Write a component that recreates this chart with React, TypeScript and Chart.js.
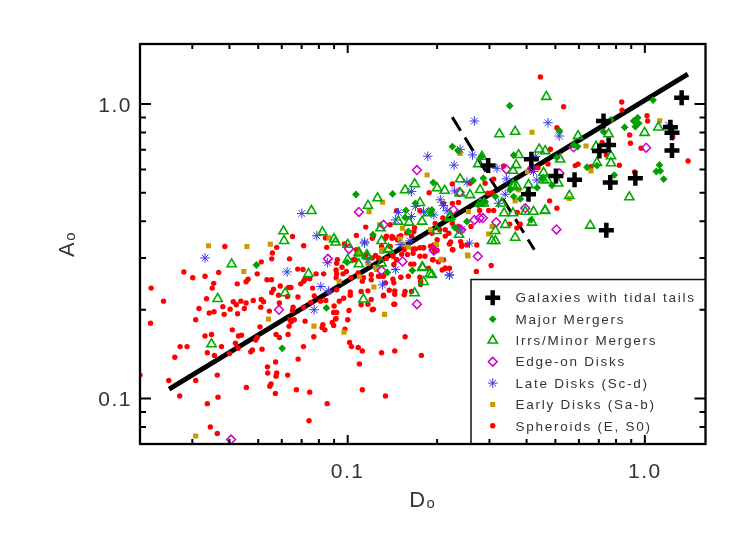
import React, { useEffect, useRef } from "react";
import { Chart, registerables } from "chart.js";
import { drawPoint } from "chart.js/helpers";

Chart.register(...registerables);

const spheroidD = [0.0218,0.024,0.0217,0.02,0.0281,0.0301,0.0331,0.0386,0.0368,0.0354,0.035,0.0335,0.0316,0.0342,0.0355,0.0308,0.038,0.0402,0.0384,0.0412,0.0422,0.0437,0.0455,0.0449,0.0426,0.0481,0.0512,0.0521,0.051,0.0545,0.0425,0.0455,0.0462,0.0496,0.0512,0.0558,0.0555,0.0577,0.0637,0.0711,0.0679,0.0707,0.0783,0.083,0.0535,0.0554,0.0593,0.0563,0.0555,0.0585,0.0633,0.0644,0.0627,0.0589,0.0655,0.0652,0.071,0.068,0.0695,0.0718,0.0711,0.0745,0.0762,0.0772,0.0751,0.081,0.0844,0.0866,0.0331,0.0348,0.0273,0.0288,0.0262,0.0337,0.0356,0.0376,0.04,0.0419,0.0428,0.0409,0.0429,0.0439,0.0507,0.0496,0.049,0.0478,0.0472,0.0515,0.025,0.0308,0.0364,0.0272,0.0366,0.0337,0.0345,0.0364,0.0456,0.0537,0.0538,0.0572,0.0577,0.0574,0.0628,0.0552,0.0547,0.0571,0.0672,0.0745,0.0681,0.071,0.0574,0.0589,0.063,0.0769,0.0719,0.0639,0.0645,0.0661,0.0635,0.082,0.0838,0.0825,0.0887,0.0897,0.091,0.0918,0.1,0.101,0.0979,0.1015,0.103,0.1085,0.112,0.1095,0.112,0.0853,0.0741,0.134,0.13,0.144,0.156,0.177,0.122,0.144,0.132,0.12,0.0969,0.0937,0.102,0.102,0.111,0.117,0.0918,0.0914,0.0975,0.106,0.0957,0.0914,0.0918,0.0965,0.099,0.1026,0.1085,0.113,0.112,0.12,0.12,0.129,0.132,0.134,0.142,0.143,0.151,0.16,0.163,0.167,0.159,0.166,0.169,0.182,0.187,0.194,0.213,0.208,0.226,0.22,0.18,0.175,0.127,0.135,0.142,0.152,0.146,0.143,0.175,0.176,0.176,0.132,0.138,0.144,0.144,0.156,0.155,0.164,0.143,0.121,0.117,0.111,0.09,0.0897,0.0914,0.115,0.122,0.135,0.142,0.164,0.19,0.195,0.2,0.213,0.222,0.115,0.121,0.134,0.141,0.149,0.139,0.085,0.0923,0.0918,0.1046,0.121,0.168,0.19,0.213,0.219,0.225,0.242,0.272,0.225,0.188,0.252,0.166,0.18,0.175,0.197,0.213,0.22,0.202,0.225,0.21,0.155,0.141,0.124,0.146,0.127,0.445,0.533,0.836,0.838,1.017,1.022,0.506,0.718,0.742,0.889,0.894,0.971,1.398,1.241,0.924,0.821,0.659,0.596,0.583,0.472,0.437,0.481,0.335,0.31,0.29,0.258,0.478,0.506,0.372,0.351,0.381,0.371,0.271,0.304,0.22,0.24,0.242,0.278,0.298,0.31,0.296,0.306,0.26,0.236,0.197,0.209,0.225,0.236,0.193,0.21,0.2,0.195,0.192,0.204,0.0652,0.0842,0.107,0.146,0.175,0.158,0.167,0.139,0.141,0.13,0.147,0.151,0.098,0.107];
const spheroidA = [0.237,0.214,0.18,0.12,0.269,0.257,0.26,0.328,0.268,0.246,0.237,0.218,0.202,0.195,0.197,0.185,0.205,0.201,0.193,0.213,0.208,0.214,0.211,0.202,0.194,0.215,0.217,0.213,0.204,0.198,0.245,0.249,0.254,0.265,0.291,0.312,0.298,0.326,0.298,0.33,0.275,0.274,0.265,0.265,0.253,0.253,0.241,0.235,0.229,0.224,0.238,0.238,0.222,0.211,0.204,0.199,0.204,0.221,0.245,0.254,0.25,0.255,0.237,0.223,0.212,0.214,0.215,0.23,0.163,0.165,0.15,0.15,0.138,0.143,0.14,0.15,0.142,0.154,0.148,0.171,0.163,0.164,0.175,0.161,0.158,0.146,0.144,0.147,0.115,0.115,0.12,0.102,0.101,0.096,0.08,0.076,0.109,0.128,0.122,0.133,0.122,0.119,0.12,0.112,0.11,0.104,0.107,0.105,0.136,0.15,0.165,0.161,0.165,0.162,0.183,0.185,0.182,0.185,0.176,0.174,0.171,0.178,0.181,0.177,0.186,0.196,0.185,0.199,0.172,0.155,0.15,0.149,0.145,0.131,0.107,0.096,0.084,0.102,0.143,0.145,0.162,0.14,0.201,0.209,0.224,0.217,0.219,0.214,0.23,0.224,0.231,0.232,0.234,0.257,0.335,0.296,0.279,0.273,0.265,0.265,0.27,0.257,0.267,0.257,0.25,0.263,0.253,0.26,0.26,0.247,0.254,0.247,0.258,0.26,0.286,0.286,0.308,0.322,0.322,0.304,0.277,0.296,0.277,0.273,0.32,0.335,0.325,0.325,0.3,0.299,0.304,0.309,0.296,0.285,0.258,0.25,0.244,0.223,0.233,0.232,0.226,0.231,0.225,0.231,0.209,0.2,0.209,0.208,0.206,0.196,0.187,0.308,0.356,0.356,0.352,0.356,0.329,0.322,0.318,0.356,0.34,0.382,0.35,0.35,0.35,0.355,0.328,0.326,0.296,0.288,0.296,0.3,0.38,0.374,0.374,0.364,0.32,0.332,0.332,0.535,0.5,0.332,0.311,0.325,0.304,0.316,0.277,0.277,0.291,0.46,0.46,0.32,0.311,0.306,0.296,0.26,1.237,0.979,1.016,0.954,0.913,0.876,0.831,0.741,0.672,0.785,0.736,0.708,0.641,0.775,0.588,0.62,0.613,0.625,0.618,0.626,0.608,0.702,0.616,0.556,0.538,0.538,0.469,0.443,0.428,0.391,0.391,0.379,0.27,0.283,0.335,0.341,0.329,0.435,0.435,0.435,0.498,0.5,0.384,0.463,0.393,0.41,0.393,0.384,0.296,0.296,0.346,0.332,0.364,0.374,0.355,0.351,0.358,0.434,0.434,0.365,0.369,0.389,0.355,0.328,0.346,0.357,0.332,0.32];

const earlyD = [0.034,0.0458,0.0549,0.0447,0.0541,0.0308,0.077,0.0972,0.0936,0.1095,0.1225,0.133,0.131,0.124,0.117,0.109,0.154,0.16,0.199,0.206,0.253,0.125,0.417,0.634,1.122,0.239,0.185,0.659,0.557,0.456,0.403,0.376,0.366,0.254,0.207,0.198,0.298,0.306,0.255,0.19,0.131,0.118,0.0865,0.128,0.15,0.153,0.13];
const earlyA = [0.33,0.328,0.334,0.27,0.186,0.0745,0.176,0.168,0.25,0.259,0.239,0.193,0.32,0.279,0.288,0.312,0.333,0.327,0.333,0.296,0.307,0.274,0.802,0.72,0.878,0.68,0.574,0.593,0.478,0.552,0.59,0.511,0.469,0.305,0.297,0.332,0.362,0.384,0.431,0.374,0.464,0.431,0.351,0.389,0.348,0.379,0.316];

const lateD = [0.0701,0.0787,0.114,0.164,0.186,0.148,0.145,0.164,0.169,0.18,0.0331,0.0625,0.0812,0.0863,0.0771,0.0854,0.114,0.145,0.131,0.22,0.117,0.162,0.15,0.267,0.472,0.515,0.239,0.263,0.228,0.428,0.318,0.342,0.252,0.229,0.205,0.21,0.216,0.195,0.322,0.339,0.422,0.433,0.257,0.22,0.241,1.2];
const lateA = [0.425,0.357,0.337,0.505,0.665,0.428,0.404,0.415,0.449,0.431,0.3,0.269,0.24,0.232,0.2,0.289,0.34,0.274,0.243,0.262,0.296,0.343,0.333,0.876,0.864,0.779,0.702,0.672,0.62,0.663,0.605,0.557,0.543,0.507,0.473,0.452,0.434,0.42,0.46,0.494,0.59,0.552,0.337,0.263,0.374,0.849];

const edgeD = [0.171,0.109,0.132,0.0858,0.0587,0.0405,0.101,0.13,0.153,0.195,0.171,0.504,1.01,0.274,0.316,0.278,0.285,0.267,0.227,0.238,0.241,0.195,0.342,0.396,0.417,0.516,0.576,0.236];
const edgeA = [0.597,0.43,0.389,0.298,0.2,0.0725,0.322,0.272,0.292,0.319,0.209,0.375,0.711,0.304,0.397,0.41,0.41,0.404,0.437,0.502,0.374,0.318,0.6,0.443,0.605,0.582,0.713,0.377];

const irrD = [0.0755,0.0608,0.0611,0.0822,0.09,0.091,0.1,0.13,0.117,0.126,0.156,0.168,0.175,0.161,0.148,0.178,0.129,0.187,0.0407,0.0365,0.0348,0.0738,0.0616,0.113,0.1,0.109,0.109,0.116,0.13,0.137,0.179,0.189,0.18,0.168,0.109,0.116,0.137,0.199,0.239,0.2,0.212,0.239,0.258,0.279,0.237,0.22,0.178,0.192,0.336,0.36,0.396,0.422,0.462,0.417,0.339,0.314,0.314,0.306,0.366,0.36,0.33,0.279,0.287,0.221,0.406,0.456,0.466,0.324,0.366,0.596,0.755,0.685,0.769,0.769,0.69,0.998,1.11,0.887,0.655,0.557,0.461,0.441,0.462,0.519,0.376,0.369,0.36,0.456,0.469,0.511,0.371,0.362,0.283,0.275];
const irrA = [0.434,0.37,0.343,0.367,0.348,0.339,0.333,0.343,0.452,0.479,0.51,0.535,0.462,0.396,0.399,0.399,0.379,0.426,0.286,0.218,0.153,0.265,0.228,0.217,0.296,0.311,0.286,0.307,0.288,0.322,0.278,0.265,0.249,0.228,0.313,0.305,0.32,0.371,0.556,0.518,0.508,0.498,0.491,0.511,0.36,0.41,0.279,0.263,0.426,0.426,0.431,0.431,0.435,0.396,0.389,0.371,0.343,0.343,0.352,0.531,0.46,0.46,0.46,0.415,0.531,0.552,1.059,0.791,0.806,0.779,0.791,0.717,0.666,0.63,0.632,0.799,0.834,0.483,0.387,0.488,0.434,0.702,0.693,0.649,0.672,0.621,0.594,0.585,0.552,0.538,0.524,0.524,0.663,0.626];

const majorD = [0.1066,0.1416,0.169,0.157,0.156,0.16,0.1216,0.0493,0.0602,0.0848,0.136,0.165,0.0995,0.351,1.066,0.225,0.235,0.282,0.362,0.516,0.576,0.594,0.506,0.639,0.69,0.726,0.769,0.855,0.917,0.946,0.953,0.929,0.789,1.12,1.093,1.127,1.157,0.194,0.264,0.286,0.487,0.434,0.362,0.381,0.414,0.252,0.229,0.283,0.275,0.192,0.19,0.314,0.352,0.29,0.451,0.401];
const majorA = [0.493,0.495,0.46,0.435,0.412,0.369,0.36,0.284,0.148,0.203,0.268,0.272,0.29,0.987,1.032,0.717,0.695,0.663,0.67,0.81,0.726,0.717,0.659,0.61,0.618,0.806,0.883,0.834,0.876,0.899,0.86,0.838,0.574,0.621,0.59,0.593,0.556,0.541,0.55,0.56,0.529,0.52,0.485,0.476,0.404,0.399,0.381,0.46,0.455,0.437,0.426,0.485,0.511,0.466,0.56,0.498];

const tailsD = [1.33,0.726,1.219,1.234,1.234,0.755,0.703,0.415,0.297,0.502,0.58,0.765,0.929,0.406,0.742];
const tailsA = [1.05,0.876,0.834,0.799,0.695,0.726,0.693,0.649,0.618,0.57,0.553,0.541,0.56,0.494,0.373];

const fitD = [0.02506, 1.396];
const fitA = [0.1075, 1.264];
const limitD = [0.2248, 0.4246];
const limitA = [0.903, 0.32];

const xTicks = [0.03,0.04,0.05,0.06,0.07,0.08,0.09,0.1,0.2,0.3,0.4,0.5,0.6,0.7,0.8,0.9,1.0];
const yTicks = [0.08,0.09,0.1,0.2,0.3,0.4,0.5,0.6,0.7,0.8,0.9,1.0];
const labelled = [0.1, 1.0];

const zip = (xs: number[], ys: number[]) => xs.map((x, i) => ({ x, y: ys[i] }));

const FONT = '"Liberation Sans", Arial, sans-serif';
const INK = "#333333";

const legendLabels = (chart: any) =>
  chart.data.datasets.filter((d: any) => d.inLegend);

const framePlugin = {
  id: "frame",
  beforeDraw(chart: any) {
    chart.ctx.letterSpacing = "1.5px";
  },
  afterDatasetsDraw(chart: any) {
    const { ctx, chartArea: a, scales } = chart;
    ctx.save();
    ctx.letterSpacing = "1.75px";
    ctx.fillStyle = "#ffffff";
    ctx.fillRect(471, 279.5, 234.5, 164.5);
    ctx.strokeStyle = "#111111";
    ctx.lineWidth = 1.5;
    ctx.beginPath();
    ctx.moveTo(471, 444);
    ctx.lineTo(471, 279.5);
    ctx.lineTo(705.5, 279.5);
    ctx.stroke();
    legendLabels(chart).forEach((d: any, i: number) => {
      const y = 297.7 + i * 21.35;
      ctx.fillStyle = d.pointBackgroundColor;
      ctx.strokeStyle = d.pointBorderColor;
      ctx.lineWidth = d.pointBorderWidth;
      drawPoint(
        ctx,
        { pointStyle: d.pointStyle, radius: d.pointRadius, rotation: 0, borderWidth: d.pointBorderWidth },
        492.7,
        y
      );
      ctx.fillStyle = INK;
      ctx.font = `13.5px ${FONT}`;
      ctx.textAlign = "left";
      ctx.textBaseline = "middle";
      ctx.fillText(d.label, 515.5, y + 1);
    });
    ctx.strokeStyle = "#000000";
    ctx.lineWidth = 2;
    ctx.beginPath();
    scales.x.ticks.forEach((t: any) => {
      const p = scales.x.getPixelForValue(t.value);
      const len = labelled.includes(t.value) ? 9 : 5;
      ctx.moveTo(p, a.bottom);
      ctx.lineTo(p, a.bottom - len);
      ctx.moveTo(p, a.top);
      ctx.lineTo(p, a.top + len);
    });
    scales.y.ticks.forEach((t: any) => {
      const p = scales.y.getPixelForValue(t.value);
      const len = labelled.includes(t.value) ? 11 : 6;
      ctx.moveTo(a.left, p);
      ctx.lineTo(a.left + len, p);
      ctx.moveTo(a.right, p);
      ctx.lineTo(a.right - len, p);
    });
    ctx.stroke();
    ctx.lineWidth = 2.3;
    ctx.strokeRect(a.left, a.top, a.right - a.left, a.bottom - a.top);
    ctx.restore();
  },
};

const markers = (
  label: string,
  xs: number[],
  ys: number[],
  pointStyle: string,
  radius: number,
  fill: string,
  stroke: string,
  borderWidth: number
) => ({
  label,
  inLegend: true,
  data: zip(xs, ys),
  pointStyle,
  pointRadius: radius,
  pointBackgroundColor: fill,
  pointBorderColor: stroke,
  pointBorderWidth: borderWidth,
  showLine: false,
});

const axis = (ticks: number[], min: number, max: number, title: string, side: "x" | "y") => ({
  type: "logarithmic" as const,
  min,
  max,
  afterBuildTicks(scale: any) {
    scale.ticks = ticks.map((value) => ({ value }));
  },
  afterFit(scale: any) {
    if (side === "x") scale.height = 90;
    else scale.width = 140;
  },
  grid: { display: false, drawTicks: false },
  border: { display: false },
  ticks: {
    autoSkip: false,
    maxRotation: 0,
    minRotation: 0,
    color: INK,
    padding: side === "x" ? 16 : 8,
    labelOffset: side === "y" ? 2 : 0,
    font: { family: FONT, size: 21 },
    callback: (v: number) => (labelled.includes(v) ? v.toFixed(1) : ""),
  },
  title: {
    display: true,
    text: title,
    color: INK,
    font: { family: FONT, size: 22 },
    padding: side === "x" ? { top: 0, bottom: 20 } : { top: 55, bottom: 0 },
  },
});

export default function App() {
  const ref = useRef<HTMLCanvasElement>(null);
  useEffect(() => {
    const chart = new Chart(ref.current as HTMLCanvasElement, {
      type: "scatter",
      data: {
        datasets: [
          markers("Galaxies with tidal tails", tailsD, tailsA, "cross", 7.5, "#000000", "#000000", 4.5),
          markers("Major Mergers", majorD, majorA, "rectRot", 3.9, "#00a000", "#00a000", 0),
          markers("Irrs/Minor Mergers", irrD, irrA, "triangle", 5.3, "rgba(0,0,0,0)", "#00aa00", 1.6),
          markers("Edge-on Disks", edgeD, edgeA, "rectRot", 4.4, "rgba(0,0,0,0)", "#cc00cc", 1.5),
          markers("Late Disks (Sc-d)", lateD, lateA, "star", 4.8, "rgba(0,0,0,0)", "#3a3ae0", 1),
          markers("Early Disks (Sa-b)", earlyD, earlyA, "rect", 3.6, "#cc9900", "#cc9900", 0),
          markers("Spheroids (E, S0)", spheroidD, spheroidA, "circle", 2.7, "#ff0000", "#ff0000", 0),
          {
            label: "Fit",
            data: zip(fitD, fitA),
            showLine: true,
            borderColor: "#000000",
            borderWidth: 4.8,
            pointRadius: 0,
          },
          {
            label: "Limit",
            data: zip(limitD, limitA),
            showLine: true,
            borderColor: "#000000",
            borderWidth: 3,
            borderDash: [16, 8],
            pointRadius: 0,
          },
        ],
      } as any,
      options: {
        responsive: false,
        animation: false,
        layout: { autoPadding: false, padding: { top: 44, right: 41.5, left: 0, bottom: 0 } },
        plugins: { legend: { display: false }, tooltip: { enabled: false } },
        scales: {
          x: axis(xTicks, 0.02, 1.6, "D\u2092", "x"),
          y: axis(yTicks, 0.07, 1.6, "A\u2092", "y"),
        },
      } as any,
      plugins: [framePlugin],
    });
    return () => chart.destroy();
  }, []);
  return (
    <canvas
      ref={ref}
      width={747}
      height={534}
      style={{ position: "absolute", left: 0, top: 0, display: "block" }}
    />
  );
}
